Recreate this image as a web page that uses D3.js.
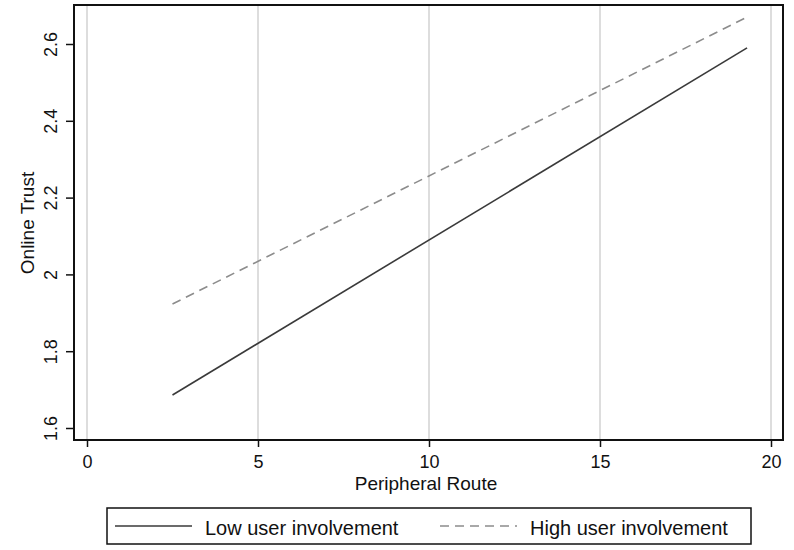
<!DOCTYPE html>
<html>
<head>
<meta charset="utf-8">
<script src="https://cdn.jsdelivr.net/npm/d3@7"></script>
<style>
  body { margin: 0; background: #fff; }
  svg { display: block; font-family: "Liberation Sans", Arial, Helvetica, sans-serif; }
</style>
</head>
<body>
<svg width="794" height="550"></svg>
<script>
// ---- dados
const seriesNames = ['Low user involvement', 'High user involvement'];
const routeX = [2.5, 19.3];
const lowTrust = [1.686, 2.59];
const highTrust = [1.923, 2.67];
const xTicks = [0, 5, 10, 15, 20];
const yTicks = [1.6, 1.8, 2.0, 2.2, 2.4, 2.6];

const svg = d3.select('svg');
const frame = { left: 74, right: 783, top: 5, bottom: 440 };

// ---- escalas
const mapX = d3.scaleLinear().domain([0, 20]).range([87, 771]);
const mapY = d3.scaleLinear().domain([1.6, 2.6]).range([428, 44]);

// ---- grade vertical
svg.append('g').selectAll('line').data(xTicks).join('line')
    .attr('x1', d => mapX(d)).attr('x2', d => mapX(d))
    .attr('y1', frame.top).attr('y2', frame.bottom)
    .style('stroke', '#d2d2d2').style('stroke-width', 1.5);

// ---- eixos
const xAxis = d3.axisBottom(mapX).tickValues(xTicks).tickSize(7).tickPadding(0).tickFormat(d3.format('d'));
svg.append('g')
    .attr('transform', `translate(0, ${frame.bottom})`)
    .call(xAxis)
    .call(g => g.select('.domain').remove())
    .call(g => g.selectAll('line').style('stroke', '#111').style('stroke-width', 1.5))
    .call(g => g.selectAll('text')
        .attr('y', 28).attr('dy', null)
        .style('font-size', '18px').style('fill', '#111').style('font-family', 'inherit'));

const yAxis = d3.axisLeft(mapY).tickValues(yTicks).tickSize(8).tickFormat(d => String(+d.toFixed(1)));
svg.append('g')
    .attr('transform', `translate(${frame.left}, 0)`)
    .call(yAxis)
    .call(g => g.select('.domain').remove())
    .call(g => g.selectAll('line').style('stroke', '#111').style('stroke-width', 1.5))
    .call(g => g.selectAll('text')
        .attr('x', null).attr('dy', null)
        .attr('transform', 'translate(-17, 0) rotate(-90)')
        .style('text-anchor', 'middle')
        .style('font-size', '18px').style('fill', '#111').style('font-family', 'inherit'));

// ---- moldura
svg.append('rect')
    .attr('x', frame.left).attr('y', frame.top)
    .attr('width', frame.right - frame.left).attr('height', frame.bottom - frame.top)
    .style('fill', 'none').style('stroke', '#111').style('stroke-width', 2);

// ---- linhas
const line = d3.line().x(d => mapX(d[0])).y(d => mapY(d[1]));
svg.append('path')
    .datum(d3.zip(routeX, lowTrust))
    .attr('d', line)
    .style('fill', 'none').style('stroke', '#3a3a3a').style('stroke-width', 1.6);
svg.append('path')
    .datum(d3.zip(routeX, highTrust))
    .attr('d', line)
    .style('fill', 'none').style('stroke', '#8c8c8c').style('stroke-width', 1.6)
    .style('stroke-dasharray', '9,6');

// ---- títulos
svg.append('text')
    .attr('x', 426).attr('y', 490)
    .style('text-anchor', 'middle').style('font-size', '19px').style('fill', '#111')
    .text('Peripheral Route');
svg.append('text')
    .attr('transform', 'translate(34, 223) rotate(-90)')
    .style('text-anchor', 'middle').style('font-size', '19px').style('fill', '#111')
    .text('Online Trust');

// ---- legenda
const legend = svg.append('g');
legend.append('rect')
    .attr('x', 107).attr('y', 508).attr('width', 644).attr('height', 36)
    .style('fill', '#fff').style('stroke', '#111').style('stroke-width', 1.5);
const legendItems = [
    { name: seriesNames[0], x: 115, color: '#3a3a3a', dash: null },
    { name: seriesNames[1], x: 440, color: '#8c8c8c', dash: '9,6' }
];
legendItems.forEach(it => {
    legend.append('line')
        .attr('x1', it.x).attr('x2', it.x + 77).attr('y1', 526).attr('y2', 526)
        .style('stroke', it.color).style('stroke-width', 1.6)
        .style('stroke-dasharray', it.dash);
    legend.append('text')
        .attr('x', it.x + 90).attr('y', 535)
        .style('font-size', '20px').style('fill', '#111')
        .text(it.name);
});
</script>
</body>
</html>
